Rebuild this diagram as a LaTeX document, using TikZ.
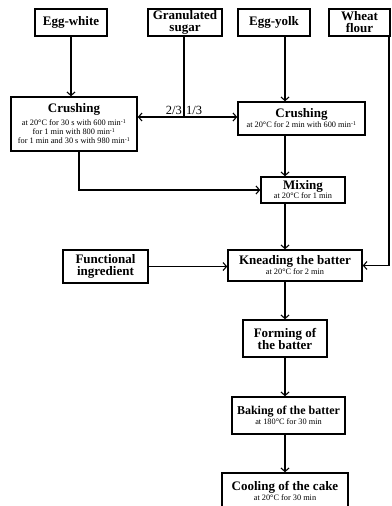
\documentclass[tikz,border=0pt]{standalone}
\usepackage{fontspec}
\setmainfont{Liberation Serif}
\usetikzlibrary{arrows.meta}

\newcommand{\steptitle}[1]{{\fontsize{13}{12}\selectfont\bfseries #1}}
\newcommand{\stepnote}[1]{{\fontsize{8.3}{8.3}\selectfont\mdseries #1}}

\tikzset{
    box/.style={draw, line width=1.5pt, inner sep=0pt, align=center,
        font=\fontsize{13}{12}\selectfont\bfseries},
    arr/.style={line width=1.1pt, -{Straight Barb[length=3.5pt,width=8pt]}},
    line/.style={line width=1.1pt}
}

\begin{document}
\begin{tikzpicture}[x=1pt,y=-1pt]
    \useasboundingbox (0,0) rectangle (391,506);

    % Define boxes
    \node[box, minimum width=72pt, minimum height=27pt] (ewhite) at (71,22.5) {Egg-white};
    \node[box, minimum width=74pt, minimum height=27pt] (sugar) at (185,22.5) {Granulated\\sugar};
    \node[box, minimum width=72pt, minimum height=27pt] (yolk) at (274,22.5) {Egg-yolk};
    \node[box, minimum width=61pt, minimum height=27pt] (flour) at (359.5,22.5) {Wheat\\flour};

    \node[box, minimum width=126pt, minimum height=54pt] (crush1) at (74,124)
        {\steptitle{Crushing}\\[1pt]
         \stepnote{at 20°C for 30 s with 600 min\textsuperscript{-1}}\\[-3pt]
         \stepnote{for 1 min with 800 min\textsuperscript{-1}}\\[-3pt]
         \stepnote{for 1 min and 30 s with 980 min\textsuperscript{-1}}};
    \node[box, minimum width=127pt, minimum height=33pt] (crush2) at (301.5,118.5)
        {\steptitle{Crushing}\\[-2pt]
         \stepnote{at 20°C for 2 min with 600 min\textsuperscript{-1}}};
    \node[box, minimum width=84pt, minimum height=26pt] (mix) at (303,190)
        {\steptitle{Mixing}\\[-3pt]\stepnote{at 20°C for 1 min}};
    \node[box, minimum width=85pt, minimum height=33pt] (func) at (105.5,266.5) {Functional\\ingredient};
    \node[box, minimum width=134pt, minimum height=31pt] (knead) at (295,265.5)
        {\steptitle{Kneading the batter}\\[-2pt]\stepnote{at 20°C for 2 min}};
    \node[box, minimum width=84pt, minimum height=37pt] (form) at (285,338.5) {Forming of\\the batter};
    \node[box, minimum width=113pt, minimum height=37pt] (bake) at (288.5,415.5)
        {{\fontsize{12}{12}\selectfont\bfseries Baking of the batter}\\[-2pt]\stepnote{at 180°C for 30 min}};
    \node[box, minimum width=126pt, minimum height=35pt] (cool) at (285,490.5)
        {\steptitle{Cooling of the cake}\\[-2pt]\stepnote{at 20°C for 30 min}};

    % Define points
    \coordinate (col) at (285,0);
    \coordinate (split) at (184,117);

    % Draw arrows
    \draw[arr] (ewhite.south) -- (ewhite.south |- crush1.north);
    \draw[line] (sugar.south -| split) -- (split);
    \draw[arr] (split) -- (split -| crush1.east);
    \draw[arr] (split) -- (split -| crush2.west);
    \node[font=\fontsize{12.5}{12}\selectfont, anchor=south east, inner sep=2pt] (twothirds) at (split) {2/3};
    \node[font=\fontsize{12.5}{12}\selectfont, anchor=south west, inner sep=2pt] (onethird) at (split) {1/3};

    \draw[arr] (yolk.south -| col) -- (crush2.north -| col);
    \draw[arr] (crush2.south -| col) -- (mix.north -| col);
    \draw[arr] ([xshift=5pt]crush1.south) |- (mix.west);
    \draw[arr] (mix.south -| col) -- (knead.north -| col);
    \draw[arr] (func.east) -- (func.east -| knead.west);
    \draw[arr] ([xshift=29.5pt]flour.south) |- (knead.east);
    \draw[arr] (knead.south -| col) -- (form.north -| col);
    \draw[arr] (form.south -| col) -- (bake.north -| col);
    \draw[arr] (bake.south -| col) -- (cool.north -| col);

\end{tikzpicture}
\end{document}
